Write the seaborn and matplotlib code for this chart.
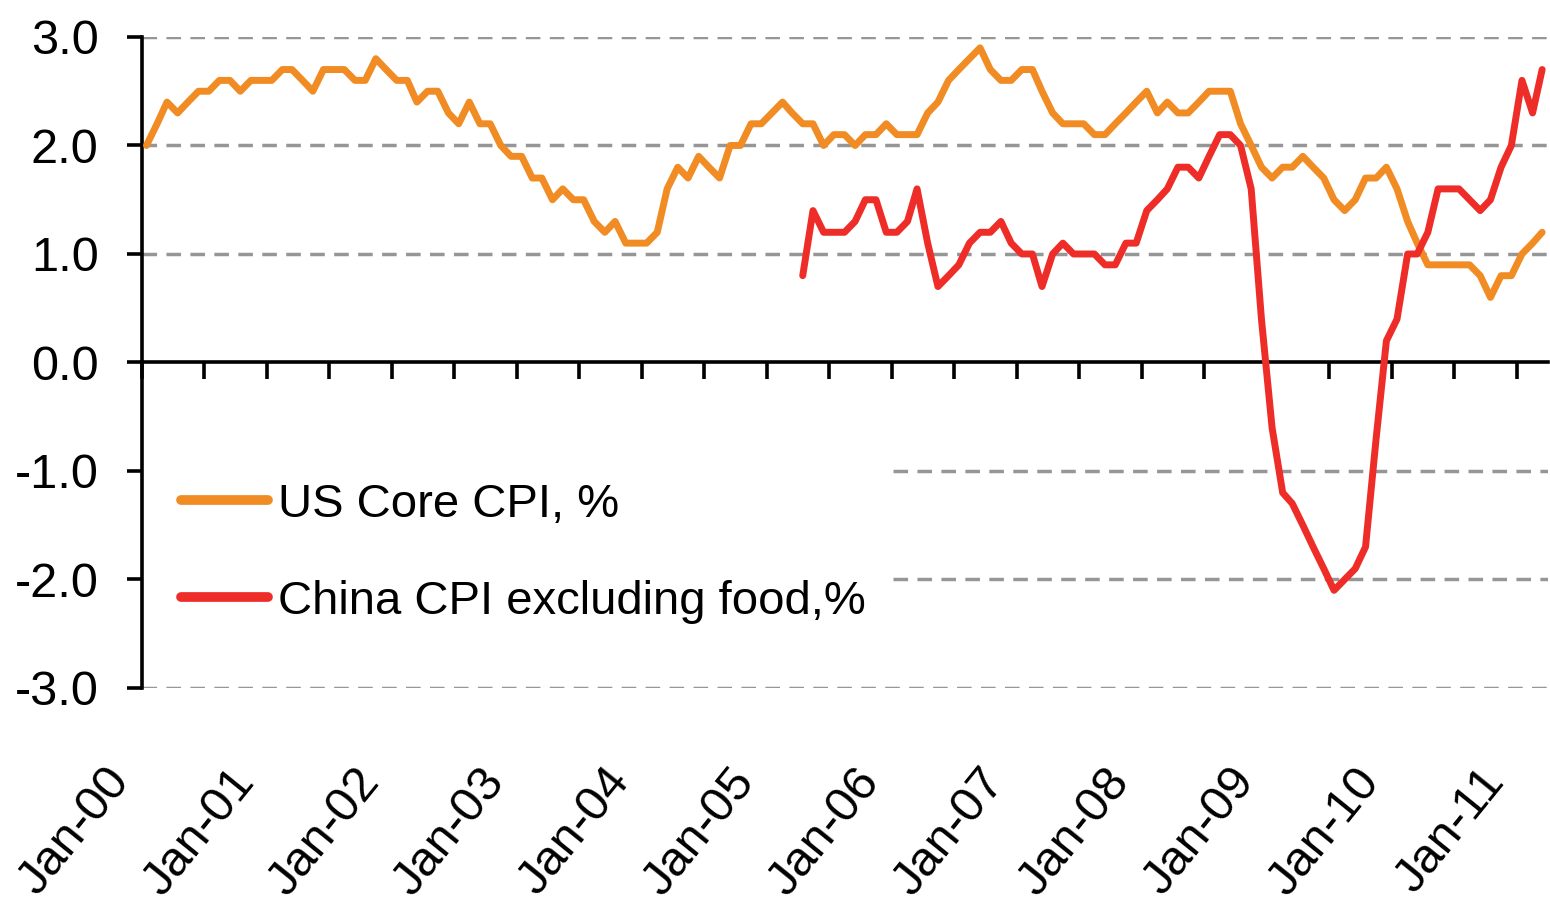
import numpy as np
import pandas as pd
import matplotlib
matplotlib.use("Agg")
import matplotlib.pyplot as plt
import matplotlib.dates as mdates
import matplotlib.transforms as mtransforms
import seaborn as sns

# monthly YoY %, Jan 2000 - Mar 2011
us_core_cpi = [
    2.0, 2.2, 2.4, 2.3, 2.4, 2.5, 2.5, 2.6, 2.6, 2.5, 2.6, 2.6,  # 2000
    2.6, 2.7, 2.7, 2.6, 2.5, 2.7, 2.7, 2.7, 2.6, 2.6, 2.8, 2.7,  # 2001
    2.6, 2.6, 2.4, 2.5, 2.5, 2.3, 2.2, 2.4, 2.2, 2.2, 2.0, 1.9,  # 2002
    1.9, 1.7, 1.7, 1.5, 1.6, 1.5, 1.5, 1.3, 1.2, 1.3, 1.1, 1.1,  # 2003
    1.1, 1.2, 1.6, 1.8, 1.7, 1.9, 1.8, 1.7, 2.0, 2.0, 2.2, 2.2,  # 2004
    2.3, 2.4, 2.3, 2.2, 2.2, 2.0, 2.1, 2.1, 2.0, 2.1, 2.1, 2.2,  # 2005
    2.1, 2.1, 2.1, 2.3, 2.4, 2.6, 2.7, 2.8, 2.9, 2.7, 2.6, 2.6,  # 2006
    2.7, 2.7, 2.5, 2.3, 2.2, 2.2, 2.2, 2.1, 2.1, 2.2, 2.3, 2.4,  # 2007
    2.5, 2.3, 2.4, 2.3, 2.3, 2.4, 2.5, 2.5, 2.5, 2.2, 2.0, 1.8,  # 2008
    1.7, 1.8, 1.8, 1.9, 1.8, 1.7, 1.5, 1.4, 1.5, 1.7, 1.7, 1.8,  # 2009
    1.6, 1.3, 1.1, 0.9, 0.9, 0.9, 0.9, 0.9, 0.8, 0.6, 0.8, 0.8,  # 2010
    1.0, 1.1, 1.2,                                               # 2011
]

# monthly YoY %, Apr 2005 - Mar 2011
china_cpi_ex_food = [
    0.8, 1.4, 1.2, 1.2, 1.2, 1.3, 1.5, 1.5, 1.2,                 # 2005
    1.2, 1.3, 1.6, 1.1, 0.7, 0.8, 0.9, 1.1, 1.2, 1.2, 1.3, 1.1,  # 2006
    1.0, 1.0, 0.7, 1.0, 1.1, 1.0, 1.0, 1.0, 0.9, 0.9, 1.1, 1.1,  # 2007
    1.4, 1.5, 1.6, 1.8, 1.8, 1.7, 1.9, 2.1, 2.1, 2.0, 1.6, 0.4,  # 2008
    -0.6, -1.2, -1.3, -1.5, -1.7, -1.9, -2.1, -2.0, -1.9, -1.7, -0.7, 0.2,  # 2009
    0.4, 1.0, 1.0, 1.2, 1.6, 1.6, 1.6, 1.5, 1.4, 1.5, 1.8, 2.0,  # 2010
    2.6, 2.3, 2.7,                                               # 2011
]

us_months = pd.date_range("2000-01-01", periods=len(us_core_cpi), freq="MS") + pd.Timedelta(days=14)
cn_months = pd.date_range("2005-04-01", periods=len(china_cpi_ex_food), freq="MS") + pd.Timedelta(days=14)

tick_dates = pd.date_range("2000-01-01", "2011-01-01", freq="6MS")
label_dates = pd.date_range("2000-01-01", "2011-01-01", freq="YS")
label_text = [d.strftime("Jan-%y") for d in label_dates]
y_ticks = [-3, -2, -1, 0, 1, 2, 3]

orange = "#F08C23"
red = "#EE2D28"
grid_col = "#969696"

sns.set_theme(style="white")
plt.rcParams["font.family"] = ["Liberation Sans", "DejaVu Sans"]
plt.rcParams["axes.unicode_minus"] = False

fig = plt.figure(figsize=(15.5, 9.11), dpi=100)
ax = fig.add_axes([0.0914, 0.2448, 0.9073, 0.7146])

# dashed grid; the legend sits over the left part of -1 and -2
dash = (0, (4.2, 2.7))
for y in [3, 2, 1, -3]:
    ax.axhline(y, color=grid_col, lw=2.5, ls=dash, zorder=1)
for y in [-1, -2]:
    ax.axhline(y, xmin=0.534, color=grid_col, lw=2.5, ls=dash, zorder=1)

sns.lineplot(x=mdates.date2num(us_months), y=us_core_cpi, ax=ax, color=orange,
             linewidth=5, label="US Core CPI, %", zorder=3)
sns.lineplot(x=mdates.date2num(cn_months), y=china_cpi_ex_food, ax=ax, color=red,
             linewidth=5, label="China CPI excluding food,%", zorder=4)

ax.set_xlim(mdates.date2num(pd.Timestamp("2000-01-01")), mdates.date2num(pd.Timestamp("2011-04-01")))
ax.set_ylim(-3, 3)

for s in ["top", "right"]:
    ax.spines[s].set_visible(False)
for s in ["left", "bottom"]:
    ax.spines[s].set_color("black")
    ax.spines[s].set_linewidth(2.6)
ax.spines["bottom"].set_position(("data", 0))

ax.set_yticks(y_ticks, [f"{v:.1f}" for v in y_ticks])
ax.tick_params(axis="y", direction="out", length=11, width=2.6, color="black",
               pad=20, labelsize=35, labelcolor="black", left=True)
ax.set_xticks(mdates.date2num(tick_dates))
ax.tick_params(axis="x", direction="out", length=12, width=2.6, color="black",
               labelbottom=False, bottom=True)
ax.set_xlabel("")
ax.set_ylabel("")

# year labels along the bottom of the plot area
sec = ax.secondary_xaxis("bottom")
sec.spines["bottom"].set_visible(False)
sec.set_xticks(mdates.date2num(label_dates), label_text)
sec.tick_params(axis="x", length=0, pad=62, labelsize=35, labelcolor="black")
shift = mtransforms.ScaledTranslation(-0.21, 0, fig.dpi_scale_trans)
for lab in sec.get_xticklabels():
    lab.set_rotation(51)
    lab.set_rotation_mode("anchor")
    lab.set_ha("right")
    lab.set_va("center")
    lab.set_transform(lab.get_transform() + shift)

leg = ax.legend(loc="upper left", bbox_to_anchor=(0.028, 0.315), frameon=False,
                fontsize=34, handlelength=1.85, handletextpad=0.2,
                labelspacing=1.12, borderpad=0, borderaxespad=0)
for line in leg.get_lines():
    line.set_linewidth(7)
for txt in leg.get_texts():
    txt.set_color("black")

fig.savefig("out.png", dpi=100, facecolor="white")
